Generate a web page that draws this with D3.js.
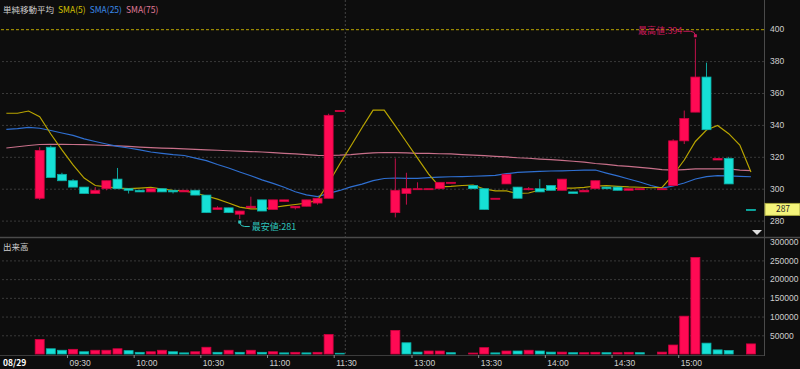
<!DOCTYPE html>
<html>
<head>
<meta charset="utf-8">
<script src="https://cdn.jsdelivr.net/npm/d3@7"></script>
<style>
body { margin: 0; background: #0d0d0d; }
svg { display: block; font-family: "Noto Sans CJK JP", "Noto Sans", sans-serif; }
</style>
</head>
<body>
<svg id="chart" width="800" height="369"></svg>
<script>
var slots = ["09:00","09:05","09:10","09:15","09:20","09:25","09:30","09:35","09:40","09:45","09:50","09:55",
    "10:00","10:05","10:10","10:15","10:20","10:25","10:30","10:35","10:40","10:45","10:50","10:55",
    "11:00","11:05","11:10","11:15","11:20","11:25","11:30",
    "12:30","12:35","12:40","12:45","12:50","12:55",
    "13:00","13:05","13:10","13:15","13:20","13:25","13:30","13:35","13:40","13:45","13:50","13:55",
    "14:00","14:05","14:10","14:15","14:20","14:25","14:30","14:35","14:40","14:45","14:50","14:55",
    "15:00","15:05","15:10","15:15","15:20","15:25","15:30"];

// time, open, high, low, close
var candles = [
    ["09:15",294,326,293,324], ["09:20",326,327,307,307], ["09:25",309,310,305,305], ["09:30",305,306,301,301],
    ["09:35",301,301,297,297], ["09:40",297,301,297,299], ["09:45",300,305,299,305], ["09:50",306,313,300,300],
    ["09:55",300,300,297,299], ["10:00",299,299,298,298], ["10:05",298,300,298,300], ["10:10",300,300,298,298],
    ["10:15",299,299,297,298], ["10:20",298,299,298,299], ["10:25",299,299,296,296], ["10:30",296,296,285,285],
    ["10:35",287,289,287,288], ["10:40",288,288,285,285], ["10:45",284,286,281,286], ["10:50",288,295,288,289],
    ["10:55",293,293,286,286], ["11:00",287,293,287,293], ["11:05",292,293,292,293], ["11:10",288,289,287,289],
    ["11:15",289,293,289,293], ["11:20",291,294,290,294], ["11:25",294,347,294,346], ["11:30",349,349,349,349],
    ["12:50",285,319,282,299], ["12:55",297,310,290,300], ["13:00",300,304,300,300], ["13:05",300,300,300,300],
    ["13:10",300,304,300,304], ["13:15",304,304,304,304], ["13:25",302,302,300,300], ["13:30",300,300,287,287],
    ["13:35",294,294,294,294], ["13:40",303,309,303,309], ["13:45",301,301,294,294], ["13:50",300,301,299,300],
    ["13:55",300,306,298,298], ["14:00",302,302,299,299], ["14:05",299,306,299,306], ["14:10",298,298,297,297],
    ["14:15",298,299,298,299], ["14:20",300,305,300,305], ["14:25",301,301,300,300], ["14:30",301,301,299,299],
    ["14:35",299,300,299,300], ["14:40",300,300,300,300], ["14:50",300,300,300,300], ["14:55",302,331,302,330],
    ["15:00",330,349,328,344], ["15:05",348,394,348,370], ["15:10",370,379,337,337], ["15:15",318,319,318,319],
    ["15:20",319,320,303,303], ["15:30",287,287,287,287]
];

// time, volume, 1 = up / -1 = down
var volumes = [
    ["09:15",39000,1], ["09:20",14000,-1], ["09:25",10000,-1], ["09:30",12500,1], ["09:35",6000,-1],
    ["09:40",10000,1], ["09:45",10000,1], ["09:50",14000,1], ["09:55",9000,-1], ["10:00",4500,-1],
    ["10:05",6000,1], ["10:10",10000,1], ["10:15",6000,-1], ["10:20",3000,-1], ["10:25",6000,1],
    ["10:30",18000,1], ["10:35",4500,-1], ["10:40",10000,1], ["10:45",4500,-1], ["10:50",10000,1],
    ["10:55",4500,-1], ["11:00",6000,1], ["11:05",3000,-1], ["11:10",4500,1], ["11:15",3000,-1],
    ["11:20",4500,1], ["11:25",52000,1], ["11:30",2000,-1],
    ["12:50",63000,1], ["12:55",30000,-1], ["13:00",5000,-1], ["13:05",8000,1], ["13:10",8000,1],
    ["13:15",3500,-1], ["13:25",2500,1], ["13:30",17000,1], ["13:35",3000,-1], ["13:40",8000,1],
    ["13:45",8000,-1], ["13:50",10000,1], ["13:55",8000,-1], ["14:00",5000,-1], ["14:05",5000,1],
    ["14:10",3500,-1], ["14:15",3500,1], ["14:20",4500,1], ["14:25",3500,-1], ["14:30",3500,1],
    ["14:35",4500,1], ["14:40",3500,-1], ["14:50",5000,1], ["14:55",24000,1], ["15:00",101000,1],
    ["15:05",258000,1], ["15:10",29000,-1], ["15:15",11000,-1], ["15:20",9500,-1], ["15:30",27000,1]
];

var sma5 = [347.3,347.3,348.7,345.1,334.3,324.3,314.9,306.7,302,301.1,300.4,300.1,300.4,300.8,299.8,298.9,
    298.6,297.3,295.4,293.5,291,288.5,287.3,287.3,288.2,289.2,290.1,291,292.9,303.6,315.5,326.8,338.2,349.3,
    349.3,339.4,329.3,319.2,309.2,301.1,301.4,302,302.3,299.8,298.6,298.6,297,297.3,299.2,300.1,300.4,300.4,
    300.8,301.7,301.9,301.5,301.1,300.9,300.6,300.8,308.6,318,329.6,336.8,339.6,334.5,327.4,310.5];
var sma25 = [337.2,337.7,338.4,337.9,336.5,334.9,333.4,331.2,329.6,328,326.5,325.5,324.3,323,322.2,321.4,
    320.8,319.2,317.6,315.2,313,310.5,308.1,305.5,303.3,300.9,298.1,296.1,295,297.1,298.9,301.1,302.9,305.1,
    306.4,306.7,306.5,306.5,307,307.3,307.5,307.6,307.8,308,308.3,309.4,310.2,310.5,310.9,311.1,311.2,311.4,
    311.6,311.7,309.8,308,306.1,304.2,302,300.4,301.7,303.6,306.1,307.6,308.2,308,307.7,307.5];
var sma75 = [325.5,326.3,327.1,327.7,327.8,327.8,327.7,327.6,327.4,327.1,326.8,326.5,326.1,325.8,325.5,325.3,
    325,324.6,324.3,324.1,323.8,323.6,323.3,323,322.6,322.2,321.8,321.4,320.9,320.8,321,321.4,322,322.5,
    322.7,322.6,322.4,322.2,322.1,321.9,321.8,321.4,321.1,320.7,320.3,319.9,319.4,319.1,318.6,318.2,317.7,
    317.2,316.7,315.8,315.3,314.5,314,313.4,312.8,312,311.7,312,312.4,312.4,312.4,312.4,311.7,311.3];

var timeTicks = ["09:30","10:00","10:30","11:00","11:30","13:00","13:30","14:00","14:30","15:00"];
var priceTicks = [280,300,320,340,360,380,400];
var volTicks = [50000,100000,150000,200000,250000,300000];
var dateLabel = "08/29";
var limitPrice = 400;
var lastPrice = 287;
var breakAfter = "11:30";

var upCol = "#ff0a54", upEdge = "#d0003f", downCol = "#16e0d6", downEdge = "#0aaea6";
var plotR = 764;

var svg = d3.select("#chart");
svg.append("rect").attr("width", 800).attr("height", 369).attr("fill", "#0d0d0d");

var x = d3.scaleBand().domain(slots).range([0.8, 756.5]).paddingInner(0.1).paddingOuter(0.05);
var y = d3.scaleLinear().domain([300, 400]).range([188.7, 29.2]);
var yv = d3.scaleLinear().domain([0, 300000]).range([354, 241.7]);
var half = (x.step() - x.bandwidth()) / 2;
var cx = function(t) { return x(t) + x.bandwidth() / 2; };

// price grid + labels
var pAxis = svg.append("g")
    .attr("transform", "translate(" + plotR + ",0)")
    .call(d3.axisRight(y).tickValues(priceTicks).tickSize(-plotR).tickPadding(6));
pAxis.select(".domain").remove();
pAxis.selectAll("line")
    .attr("stroke", function(d) { return d == limitPrice ? "#b8a400" : "#3a3a3a"; })
    .attr("stroke-dasharray", function(d) { return d == limitPrice ? "3,2" : "2,2"; });
pAxis.selectAll("text").attr("fill", "#cfcfcf").style("font-size", "8.5px");

// volume grid + labels
var vAxis = svg.append("g")
    .attr("transform", "translate(" + plotR + ",0)")
    .call(d3.axisRight(yv).tickValues(volTicks).tickFormat(d3.format("d")).tickSize(-plotR).tickPadding(6));
vAxis.select(".domain").remove();
vAxis.selectAll("line").attr("stroke", function(d) { return d >= 300000 ? "none" : "#3a3a3a"; })
    .attr("stroke-dasharray", "2,2");
vAxis.selectAll("text").attr("fill", "#cfcfcf").style("font-size", "8.5px");

// session break
var bx = x(breakAfter) + x.bandwidth() + half;
svg.append("line").attr("x1", bx).attr("x2", bx).attr("y1", 0).attr("y2", 355)
    .attr("stroke", "#444").attr("stroke-dasharray", "2,2");

// frames
svg.append("line").attr("x1", 0).attr("x2", 800).attr("y1", 237.5).attr("y2", 237.5)
    .attr("stroke", "#4a4a4a").attr("stroke-width", 1.5);
svg.append("line").attr("x1", 0).attr("x2", plotR).attr("y1", 355.5).attr("y2", 355.5)
    .attr("stroke", "#3c3c3c");
svg.append("line").attr("x1", plotR + 0.5).attr("x2", plotR + 0.5).attr("y1", 0).attr("y2", 356)
    .attr("stroke", "#4a4a4a");

// time axis
var tAxis = svg.append("g")
    .attr("transform", "translate(" + (-x.step() / 2) + ",355)")
    .call(d3.axisBottom(x).tickValues(timeTicks).tickSize(3).tickPadding(2));
tAxis.select(".domain").remove();
tAxis.selectAll("line").attr("stroke", "#888");
tAxis.selectAll("text").attr("fill", "#cfcfcf").attr("text-anchor", "start").attr("dx", 2)
    .style("font-size", "8.5px");
svg.append("text").attr("x", 3).attr("y", 365.5).text(dateLabel)
    .attr("fill", "#fff").attr("font-weight", "bold").style("font-size", "8.5px");

// SMA lines
var line = d3.line()
    .x(function(d, i) { return cx(slots[i]); })
    .y(function(d) { return y(d); });
[[sma75, "#c8708a"], [sma25, "#2f6fd0"], [sma5, "#b8a400"]].forEach(function(s) {
    svg.append("path").datum(s[0]).attr("d", line)
        .attr("fill", "none").attr("stroke", s[1]).attr("stroke-width", 1.2);
});

// candles
var isUp = function(d, i) {
    var prev = i > 0 ? candles[i - 1][4] : d[1];
    return d[4] > d[1] || (d[4] == d[1] && d[4] >= prev);
};
var cg = svg.append("g");
cg.selectAll("line.wick")
    .data(candles)
    .enter().append("line")
        .attr("class", "wick")
        .attr("x1", function(d) { return cx(d[0]); })
        .attr("x2", function(d) { return cx(d[0]); })
        .attr("y1", function(d) { return y(d[2]); })
        .attr("y2", function(d) { return y(d[3]); })
        .attr("stroke", function(d, i) { return isUp(d, i) ? "#c0104a" : "#10a8a0"; })
cg.selectAll("rect.body")
    .data(candles)
    .enter().append("rect")
        .attr("class", "body")
        .attr("x", function(d) { return x(d[0]) + 0.5; })
        .attr("width", x.bandwidth() - 1)
        .attr("y", function(d) { return y(Math.max(d[1], d[4])); })
        .attr("height", function(d) { return Math.max(1, Math.abs(y(d[1]) - y(d[4]))); })
        .attr("fill", function(d, i) { return isUp(d, i) ? upCol : downCol; })
        .attr("stroke", function(d, i) { return isUp(d, i) ? upEdge : downEdge; })
        .attr("stroke-width", 0.8);

// volume bars
svg.selectAll("rect.vol")
    .data(volumes)
    .enter().append("rect")
        .attr("class", "vol")
        .attr("x", function(d) { return x(d[0]) + 0.5; })
        .attr("width", x.bandwidth() - 1)
        .attr("y", function(d) { return yv(d[1]); })
        .attr("height", function(d) { return yv(0) - yv(d[1]); })
        .attr("fill", function(d) { return d[2] > 0 ? upCol : downCol; })
        .attr("stroke", function(d) { return d[2] > 0 ? upEdge : downEdge; })
        .attr("stroke-width", 0.8);

// high / low marks
var lo = d3.least(candles, function(d) { return d[3]; });
var hi = d3.greatest(candles, function(d) { return d[2]; });
var lx = cx(lo[0]), ly = y(lo[3]);
svg.append("rect").attr("x", lx - 1.5).attr("y", ly + 1.5).attr("width", 3).attr("height", 3).attr("fill", "#2fc4bc");
svg.append("path").attr("d", "M" + lx + "," + (ly + 4) + " Q" + (lx + 1) + "," + (ly + 7.5) + " " + (lx + 5) + "," + (ly + 7.5) + " L" + (lx + 10) + "," + (ly + 7.5))
    .attr("fill", "none").attr("stroke", "#2fc4bc");
svg.append("text").attr("x", lx + 12).attr("y", ly + 10.5).text("最安値:" + lo[3])
    .attr("fill", "#2fc4bc").style("font-size", "9px");
var hx = cx(hi[0]), hy = y(hi[2]);
svg.append("rect").attr("x", hx - 1.5).attr("y", hy - 4.5).attr("width", 3).attr("height", 3).attr("fill", "#c8185a");
svg.append("path").attr("d", "M" + hx + "," + (hy - 4) + " Q" + (hx - 1) + "," + (hy - 7.5) + " " + (hx - 5) + "," + (hy - 7.5) + " L" + (hx - 12) + "," + (hy - 7.5))
    .attr("fill", "none").attr("stroke", "#c8185a");
svg.append("text").attr("x", hx - 13).attr("y", hy - 4.5).attr("text-anchor", "end").text("最高値:" + hi[2])
    .attr("fill", "#c8185a").style("font-size", "9px");

// last price tag
svg.append("rect").attr("x", 765).attr("y", y(lastPrice) - 6).attr("width", 35).attr("height", 12)
    .attr("fill", "#f4f47a").attr("stroke", "#a8a840");
svg.append("text").attr("x", 783).attr("y", y(lastPrice)).attr("dy", "0.35em").attr("text-anchor", "middle")
    .text(lastPrice).attr("fill", "#222").style("font-size", "8.5px");
svg.append("path").attr("d", "M752,230 L762,230 L757,235 Z").attr("fill", "#ddd");

// legends
var lg = svg.append("g").style("font-size", "8.5px");
var lx0 = 3;
[["単純移動平均", "#cfcfcf"], ["SMA(5)", "#d4c200"], ["SMA(25)", "#3a8ae8"], ["SMA(75)", "#e07a98"]].forEach(function(l) {
    var t = lg.append("text").attr("x", lx0).attr("y", 13).text(l[0]).attr("fill", l[1]);
    lx0 += t.node().getComputedTextLength() + 4;
});
svg.append("text").attr("x", 3).attr("y", 250).text("出来高").attr("fill", "#cfcfcf").style("font-size", "8.5px");
</script>
</body>
</html>
